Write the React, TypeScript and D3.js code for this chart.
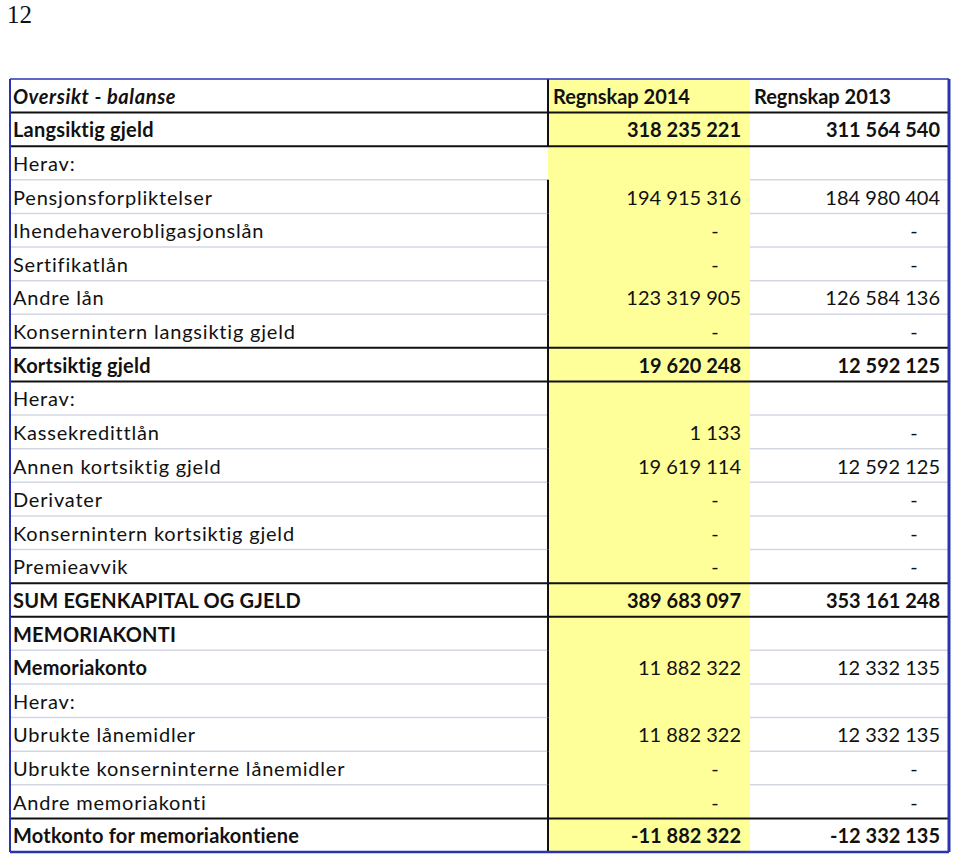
import React from 'react';
import * as d3 from 'd3';

// table content
const pageNumber = '12';
const tableTitle = 'Oversikt - balanse';
const columnHeads = ['Regnskap 2014', 'Regnskap 2013'];

const rowLabels = [
  'Langsiktig gjeld',
  'Herav:',
  'Pensjonsforpliktelser',
  'Ihendehaverobligasjonslån',
  'Sertifikatlån',
  'Andre lån',
  'Konsernintern langsiktig gjeld',
  'Kortsiktig gjeld',
  'Herav:',
  'Kassekredittlån',
  'Annen kortsiktig gjeld',
  'Derivater',
  'Konsernintern kortsiktig gjeld',
  'Premieavvik',
  'SUM EGENKAPITAL OG GJELD',
  'MEMORIAKONTI',
  'Memoriakonto',
  'Herav:',
  'Ubrukte lånemidler',
  'Ubrukte konserninterne lånemidler',
  'Andre memoriakonti',
  'Motkonto for memoriakontiene',
];

// null = empty cell, 0 = shown as "-"
const values2014 = [
  318235221, null, 194915316, 0, 0, 123319905, 0,
  19620248, null, 1133, 19619114, 0, 0, 0,
  389683097, null, 11882322, null, 11882322, 0, 0, -11882322,
];
const values2013 = [
  311564540, null, 184980404, 0, 0, 126584136, 0,
  12592125, null, 0, 12592125, 0, 0, 0,
  353161248, null, 12332135, null, 12332135, 0, 0, -12332135,
];

// styling per row (index into rowLabels)
const boldLabelRows = new Set([0, 7, 14, 15, 16, 21]);
const boldValueRows = new Set([0, 7, 14, 21]);
const blackRuleAfter = new Set([0, 6, 7, 13, 14, 20]); // plus header rule
const noDividerRows = new Set([2]);

const W = 960;
const H = 860;
const FONT = 'Lato, "Open Sans", sans-serif';
const FS = 20;
const BLUE = '#2a33b0';
const YELLOW = '#ffff99';
const GRID = '#d3d7e3';

const locale = d3.formatLocale({
  decimal: ',',
  thousands: ' ',
  grouping: [3],
  currency: ['', ''],
  minus: '-',
});
const fmt = locale.format(',d');

const App = () => {
  const rows = d3.range(rowLabels.length + 1); // 0 = header
  const y = d3.scaleBand<number>().domain(rows).range([79, 852]).paddingInner(0);
  const x = d3
    .scaleOrdinal<string, number>()
    .domain(['label', 'c2014', 'c2013', 'end'])
    .range([10, 548, 750, 949]);

  const rh = y.bandwidth();
  const base = (i: number) => (y(i) as number) + rh / 2 + FS * 0.4;

  const cell = (v: number | null, i: number, colRight: number, bold: boolean) => {
    if (v === null) return null;
    if (v === 0) {
      return (
        <text key={i} x={colRight - 35} y={base(i)} textAnchor="middle" fontWeight={bold ? 700 : 400}>-</text>
      );
    }
    return (
      <text key={i} x={colRight - 9} y={base(i)} textAnchor="end" fontWeight={bold ? 700 : 400}>{fmt(v)}</text>
    );
  };

  const x0 = x('label');
  const x1 = x('c2014');
  const x2 = x('c2013');
  const x3 = x('end');
  const top = y(0) as number;
  const bottom = (y(rows.length - 1) as number) + rh;

  return (
    <svg width={W} height={H} style={{ position: 'absolute', left: 0, top: 0, background: '#fff' }}>
      <text x={7} y={23} fontFamily='"Liberation Serif", "DejaVu Serif", serif' fontSize={25} fill="#111">{pageNumber}</text>

      {/* yellow 2014 column */}
      <rect x={x1} y={top} width={x2 - x1} height={bottom - top} fill={YELLOW} />

      {/* light row dividers (not in the yellow column) */}
      {rowLabels.map((_, k) => {
        const i = k + 1;
        if (i === rowLabels.length || blackRuleAfter.has(k)) return null;
        const yy = (y(i) as number) + rh;
        return (
          <g key={'g' + k} stroke={GRID} strokeWidth={1.5}>
            <line x1={x0} x2={x1} y1={yy} y2={yy} />
            <line x1={x2} x2={x3} y1={yy} y2={yy} />
          </g>
        );
      })}

      {/* column divider between labels and 2014 */}
      {rows.map((i) =>
        noDividerRows.has(i) ? null : (
          <line key={'v' + i} x1={x1} x2={x1} y1={y(i) as number} y2={(y(i) as number) + rh} stroke="#111" strokeWidth={2} />
        )
      )}

      {/* black rules */}
      {[0, ...Array.from(blackRuleAfter).map((k) => k + 1)].map((i) => {
        const yy = (y(i) as number) + rh;
        return <line key={'b' + i} x1={x0} x2={x3} y1={yy} y2={yy} stroke="#111" strokeWidth={2} />;
      })}

      <g fontFamily={FONT} fontSize={FS} fill="#111">
        <text x={x0 + 3} y={base(0)} fontWeight={700} fontStyle="italic" letterSpacing={0.6}>{tableTitle}</text>
        <text x={x1 + 5} y={base(0)} fontWeight={700}>{columnHeads[0]}</text>
        <text x={x2 + 4} y={base(0)} fontWeight={700}>{columnHeads[1]}</text>

        {rowLabels.map((lab, k) => {
          const bold = boldLabelRows.has(k);
          return (
            <text key={'l' + k} x={x0 + 3} y={base(k + 1)} fontWeight={bold ? 700 : 400} letterSpacing={bold ? 0.2 : 0.8}>{lab}</text>
          );
        })}
        {values2014.map((v, k) => cell(v, k + 1, x2, boldValueRows.has(k)))}
        {values2013.map((v, k) => cell(v, k + 1, x3, boldValueRows.has(k)))}
      </g>

      {/* blue outer frame */}
      <line x1={x0} x2={x3} y1={top} y2={top} stroke={BLUE} strokeWidth={1.5} />
      <line x1={x0} x2={x3} y1={bottom} y2={bottom} stroke={BLUE} strokeWidth={2.5} />
      <line x1={x0} x2={x0} y1={top} y2={bottom} stroke={BLUE} strokeWidth={2} />
      <line x1={x3} x2={x3} y1={top} y2={bottom} stroke={BLUE} strokeWidth={3} />
    </svg>
  );
};

export default App;
